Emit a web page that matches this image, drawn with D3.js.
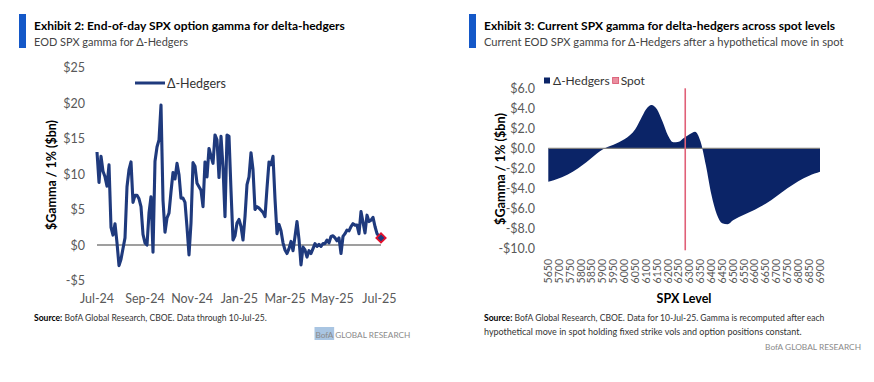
<!DOCTYPE html>
<html><head><meta charset="utf-8">
<script src="https://cdn.jsdelivr.net/npm/d3@7"></script>
<style>body{margin:0;background:#fff}svg{display:block}</style>
</head><body>
<svg id="c" width="874" height="382"></svg>
<script>
// ---------- DATA ----------
// Exhibit 2: EOD SPX gamma for delta-hedgers ($bn per 1%), evenly spaced observations
const seriesStart = "2024-07-01";
const seriesEnd = "2025-07-03";
const hedgerGamma = [
 13.1, 8.8, 12.5, 10.4, 9.6, 8.3, 11.3, 2.5, 1.4, 3.0,
 0.3, -2.9, -2.0, -0.5, 1.0, 8.2, 10.6, 11.7, 6.0, 7.0,
 7.0, 6.5, 5.4, 1.5, 0.3, 0.0, 4.5, 6.8, -1.0, 11.8,
 13.8, 14.8, 19.7, 6.3, 1.8, 3.8, 4.5, 7.5, 10.2, 9.3,
 11.5, 9.9, 6.6, 6.6, 6.0, 2.5, -1.4, 3.1, 11.6, 11.1,
 8.7, 8.2, 7.7, 5.4, 11.7, 9.6, 13.6, 12.5, 11.5, 15.5,
 14.8, 9.5, 15.3, 11.0, 4.0, 15.5, 15.3, 7.7, 0.7, 1.3,
 3.1, 3.6, 2.6, 0.7, 4.0, 8.5, 9.6, 13.0, 10.6, 5.0,
 5.4, 5.2, 4.9, 4.6, 4.0, 8.0, 11.7, 11.3, 12.5, 6.5,
 1.6, 2.9, 2.0, 0.3, -0.7, -1.2, -0.5, 0.5, -0.8, 1.2,
 3.3, 0.8, -2.8, -0.3, -0.7, -1.7, -0.8, -1.2, -0.5, 0.2,
 -0.2, 0.1, -0.2, 0.2, 0.2, 0.7, 0.3, 1.2, 1.3, 1.0,
 0.6, 1.0, -1.2, 1.2, 1.6, 2.1, 2.0, 2.6, 3.0, 2.8,
 2.8, 1.6, 4.7, 3.2, 1.7, 4.2, 3.3, 3.5, 3.9, 2.6,
 1.6, 1.2, 1.0
];
const leftMonthTicks = ["2024-07-01","2024-09-01","2024-11-01","2025-01-01","2025-03-01","2025-05-01","2025-07-01"];
const leftYTicks = [25, 20, 15, 10, 5, 0, -5];

// Exhibit 3: gamma across spot levels
const spxLevels = [
 5650,5675,5700,5725,5750,5775,5800,5825,5850,5875,
 5900,5925,5950,5975,6000,6025,6050,6075,6100,6125,
 6150,6175,6200,6225,6250,6275,6300,6325,6350,6375,
 6400,6425,6450,6475,6500,6525,6550,6575,6600,6625,
 6650,6675,6700,6725,6750,6775,6800,6825,6850,6875,6900
];
const spxGamma = [
 -3.34,-3.2,-3.0,-2.78,-2.5,-2.17,-1.8,-1.4,-0.95,-0.5,
 -0.12,0.15,0.35,0.6,0.9,1.3,1.9,2.9,3.9,4.33,
 3.9,2.7,1.3,0.6,0.65,1.05,1.4,1.65,0.7,-1.7,
 -4.6,-6.6,-7.5,-7.6,-7.2,-6.9,-6.65,-6.4,-6.15,-5.85,
 -5.55,-5.2,-4.8,-4.4,-4.0,-3.65,-3.3,-3.0,-2.75,-2.53,-2.34
];
const spxTickLabels = [5650,5700,5750,5800,5850,5900,5950,6000,6050,6100,6150,6200,6250,6300,6350,6400,6450,6500,6550,6600,6650,6700,6750,6800,6850,6900];
const spotLevel = 6280;
const rightYTicks = [6, 4, 2, 0, -2, -4, -6, -8, -10];

// ---------- STYLE ----------
const NAVY = "#1f3a7d", AREA = "#0b2467", SPOT = "#e06078", BAR = "#1458c8";
const FONT = "Lato,'Open Sans',sans-serif";
const svg = d3.select("#c").style("font-family", FONT);

function fit(sel, w) {
  const L = sel.node().getComputedTextLength();
  if (L > 0) sel.attr("font-size", (+sel.attr("font-size")) * w / L);
  return sel;
}
function text(x, y, s, o = {}) {
  const t = svg.append("text").attr("x", x).attr("y", y).text(s)
    .attr("font-size", o.size || 13).attr("fill", o.fill || "#000")
    .attr("font-weight", o.weight || "normal")
    .attr("text-anchor", o.anchor || "start");
  if (o.fit) fit(t, o.fit);
  return t;
}

// ---------- headers ----------
svg.append("rect").attr("x", 19).attr("y", 14).attr("width", 7).attr("height", 34).attr("fill", BAR);
text(34, 30, "Exhibit 2: End-of-day SPX option gamma for delta-hedgers", {size: 12, weight: "bold", fit: 311});
text(34, 45.5, "EOD SPX gamma for Δ-Hedgers", {size: 12, fill: "#444", fit: 154});

svg.append("rect").attr("x", 469).attr("y", 14).attr("width", 7).attr("height", 34).attr("fill", BAR);
text(484, 30, "Exhibit 3: Current SPX gamma for delta-hedgers across spot levels", {size: 12, weight: "bold", fit: 351});
text(484, 45.5, "Current EOD SPX gamma for Δ-Hedgers after a hypothetical move in spot", {size: 12, fill: "#444", fit: 360});

// ---------- left chart ----------
const parse = d3.utcParse("%Y-%m-%d");
const t0 = parse(seriesStart), t1 = parse(seriesEnd);
const nObs = hedgerGamma.length;
const leftData = hedgerGamma.map((v, i) => ({
  date: new Date(+t0 + (t1 - t0) * i / (nObs - 1)), v
}));
const xL = d3.scaleUtc().domain([t0, t1]).range([97, 381]);
const yL = d3.scaleLinear().domain([-5, 25]).range([280.5, 67.5]);

svg.append("g").selectAll("text").data(leftYTicks).join("text")
  .attr("x", 85).attr("y", d => yL(d)).attr("dy", "0.36em")
  .attr("text-anchor", "end").attr("font-size", 12.5).attr("fill", "#595959")
  .text(d => (d < 0 ? "-$" : "$") + Math.abs(d));
const fmtM = d3.utcFormat("%b-%y");
svg.append("g").selectAll("text").data(leftMonthTicks.map(parse)).join("text")
  .attr("x", d => xL(d)).attr("y", 303).attr("text-anchor", "middle")
  .attr("font-size", 12.5).attr("fill", "#595959").text(d => fmtM(d));
fit(svg.append("text").attr("transform", "translate(56,175) rotate(-90)")
  .attr("text-anchor", "middle").attr("font-size", 13).attr("font-weight", "bold")
  .text("$Gamma / 1% ($bn)"), 110);
svg.append("line").attr("x1", xL(t0)).attr("x2", xL(t1)).attr("y1", yL(0)).attr("y2", yL(0))
  .attr("stroke", "#7f7f7f").attr("stroke-width", 1.3);
svg.append("path").datum(leftData)
  .attr("d", d3.line().x(d => xL(d.date)).y(d => yL(d.v)))
  .attr("fill", "none").attr("stroke", NAVY).attr("stroke-width", 3.1).attr("stroke-linejoin", "round");
const last = leftData[leftData.length - 1];
svg.append("path").attr("d", d3.symbol(d3.symbolSquare, 44)())
  .attr("transform", `translate(${xL(last.date)},${yL(last.v)}) rotate(45)`)
  .attr("fill", NAVY).attr("stroke", "#e3102c").attr("stroke-width", 1.8);
svg.append("line").attr("x1", 135).attr("x2", 165).attr("y1", 83).attr("y2", 83)
  .attr("stroke", NAVY).attr("stroke-width", 3);
text(167, 87.5, "Δ-Hedgers", {size: 12.5, fill: "#333"});

const s1 = svg.append("text").attr("x", 34).attr("y", 321).attr("font-size", 9.5).attr("fill", "#333");
s1.append("tspan").attr("font-weight", "bold").attr("fill", "#000").text("Source:");
s1.append("tspan").text(" BofA Global Research, CBOE. Data through 10-Jul-25.");
fit(s1, 233);
const brand = text(315.5, 337.5, "BofA GLOBAL RESEARCH", {size: 10, fill: "#8a8a8a", fit: 95});
const bofaW = brand.node().getSubStringLength(0, 4);
svg.insert("rect", () => brand.node()).attr("x", 314.5).attr("y", 327).attr("width", bofaW + 2).attr("height", 13).attr("fill", "#a9c5e2");

// ---------- right chart ----------
const xR = d3.scaleLinear().domain([spxLevels[0], spxLevels[spxLevels.length - 1]]).range([548.3, 820]);
const yR = d3.scaleLinear().domain([-10, 6]).range([248.3, 88.3]);
const rightData = spxLevels.map((s, i) => ({s, v: spxGamma[i]}));

svg.append("g").selectAll("text").data(rightYTicks).join("text")
  .attr("x", 535).attr("y", d => yR(d)).attr("dy", "0.36em")
  .attr("text-anchor", "end").attr("font-size", 12.5).attr("fill", "#595959")
  .text(d => (d < 0 ? "-$" : "$") + Math.abs(d).toFixed(1));
fit(svg.append("text").attr("transform", "translate(505,169) rotate(-90)")
  .attr("text-anchor", "middle").attr("font-size", 13).attr("font-weight", "bold")
  .text("$Gamma / 1% ($bn)"), 112);

svg.append("path").datum(rightData)
  .attr("d", d3.area().curve(d3.curveMonotoneX).x(d => xR(d.s)).y0(yR(0)).y1(d => yR(d.v)))
  .attr("fill", AREA);
svg.append("line").attr("x1", xR.range()[0]).attr("x2", xR.range()[1]).attr("y1", yR(0)).attr("y2", yR(0))
  .attr("stroke", "#7f7f7f").attr("stroke-width", 1.3);
svg.append("line").attr("x1", xR(spotLevel)).attr("x2", xR(spotLevel)).attr("y1", yR(6)).attr("y2", yR(-10.2))
  .attr("stroke", SPOT).attr("stroke-width", 1.6);

svg.append("g").selectAll("text").data(spxTickLabels).join("text")
  .attr("transform", d => `translate(${xR(d)},259) rotate(-90)`)
  .attr("dy", "0.35em").attr("text-anchor", "end")
  .attr("font-size", 10.5).attr("fill", "#595959").text(d => d);
text(684, 303, "SPX Level", {size: 14, weight: "bold", anchor: "middle", fit: 55});

// legend (Spot entry placed after the measured Δ-Hedgers label)
svg.append("rect").attr("x", 544).attr("y", 77.5).attr("width", 6).attr("height", 6).attr("fill", AREA);
const lgH = text(553, 85, "Δ-Hedgers", {size: 12, fill: "#333"});
const spotX = 553 + lgH.node().getComputedTextLength() + 3;
svg.append("rect").attr("x", spotX).attr("y", 77.5).attr("width", 6).attr("height", 6)
  .attr("fill", "#ea8fa0").attr("stroke", "#d8506a").attr("stroke-width", 0.8);
text(spotX + 8, 85, "Spot", {size: 12, fill: "#333"});

const s2 = svg.append("text").attr("x", 484).attr("y", 321).attr("font-size", 9.5).attr("fill", "#333");
s2.append("tspan").attr("font-weight", "bold").attr("fill", "#000").text("Source:");
s2.append("tspan").text(" BofA Global Research, CBOE. Data for 10-Jul-25. Gamma is recomputed after each");
fit(s2, 341);
text(484, 335, "hypothetical move in spot holding fixed strike vols and option positions constant.", {size: 9.5, fill: "#333", fit: 318});
text(861, 349.5, "BofA GLOBAL RESEARCH", {size: 10, fill: "#8a8a8a", anchor: "end", fit: 96});
</script>
</body></html>
